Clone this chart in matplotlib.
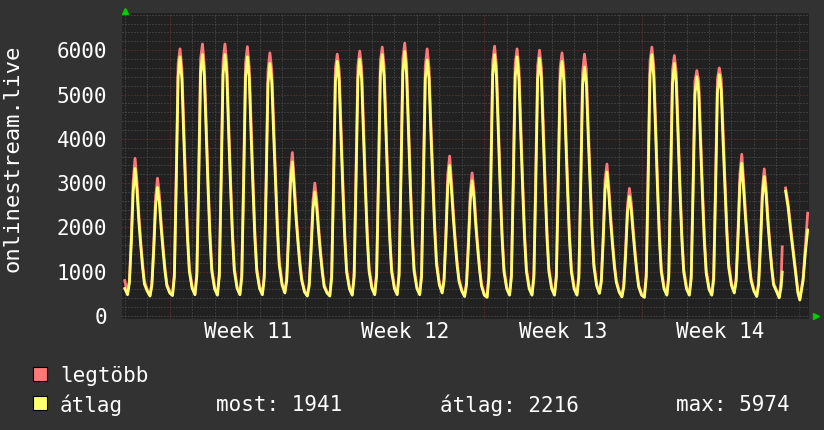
import matplotlib
matplotlib.use("Agg")
import matplotlib.pyplot as plt
from matplotlib.patches import Rectangle
import numpy as np

# ---------------- data ----------------
hours = [0, 3, 5, 7, 9, 11, 13, 15, 17, 19, 21]

# week 10 (days -2, -1 relative to the start of week 11)
avg_w10 = [
    [620, 480, 760, 1650, 2800, 3330, 2850, 2150, 1600, 1100, 720],
    [560, 450, 700, 1500, 2500, 2900, 2550, 1950, 1450, 1000, 680],
]
max_w10 = [
    [800, 500, 820, 1800, 3050, 3560, 3050, 2300, 1700, 1200, 780],
    [600, 470, 760, 1650, 2700, 3110, 2730, 2080, 1550, 1080, 720],
]
# week 11 (days 0..6)
avg_w11 = [
    [520, 460, 880, 3000, 5400, 5850, 5350, 4050, 2850, 1750, 1000],
    [620, 480, 900, 3050, 5500, 5900, 5400, 4100, 2850, 1750, 1000],
    [610, 470, 900, 3050, 5450, 5900, 5450, 4100, 2900, 1800, 1020],
    [620, 480, 880, 3000, 5400, 5850, 5350, 4050, 2850, 1750, 1000],
    [620, 480, 860, 2900, 5250, 5700, 5300, 4100, 3000, 1950, 1150],
    [700, 520, 800, 1800, 3000, 3480, 2850, 2200, 1650, 1150, 800],
    [540, 450, 680, 1450, 2400, 2800, 2450, 1900, 1400, 980, 660],
]
max_w11 = [
    [560, 480, 980, 3250, 5700, 6030, 5600, 4300, 3050, 1900, 1080],
    [660, 500, 1000, 3300, 5800, 6140, 5650, 4350, 3050, 1900, 1080],
    [650, 490, 1000, 3300, 5750, 6140, 5700, 4350, 3100, 1950, 1100],
    [660, 500, 980, 3250, 5700, 6080, 5600, 4300, 3050, 1900, 1080],
    [660, 500, 960, 3150, 5550, 5940, 5550, 4350, 3200, 2100, 1250],
    [750, 540, 870, 1950, 3250, 3690, 3050, 2350, 1750, 1250, 850],
    [570, 470, 740, 1600, 2600, 3000, 2630, 2030, 1500, 1050, 700],
]
# week 12 (days 7..13)
avg_w12 = [
    [520, 450, 860, 2950, 5300, 5750, 5300, 4000, 2800, 1720, 980],
    [610, 470, 880, 3000, 5350, 5800, 5350, 4050, 2850, 1750, 1000],
    [620, 480, 900, 3050, 5450, 5900, 5400, 4100, 2850, 1750, 1000],
    [620, 480, 910, 3100, 5500, 5974, 5450, 4150, 2900, 1780, 1010],
    [620, 480, 880, 3000, 5350, 5780, 5350, 4100, 3000, 1950, 1150],
    [700, 520, 790, 1750, 2950, 3400, 2830, 2180, 1630, 1130, 780],
    [560, 440, 700, 1550, 2600, 3050, 2650, 2020, 1500, 1030, 680],
]
max_w12 = [
    [550, 470, 960, 3200, 5600, 5910, 5550, 4250, 3000, 1870, 1060],
    [650, 490, 980, 3250, 5650, 5980, 5600, 4300, 3050, 1900, 1080],
    [660, 500, 1000, 3300, 5750, 6070, 5650, 4350, 3050, 1900, 1080],
    [660, 500, 1010, 3350, 5800, 6160, 5700, 4400, 3100, 1930, 1090],
    [660, 500, 980, 3250, 5650, 6030, 5600, 4350, 3200, 2100, 1250],
    [750, 540, 860, 1900, 3200, 3610, 3030, 2330, 1730, 1230, 830],
    [590, 460, 760, 1700, 2800, 3230, 2830, 2150, 1600, 1100, 720],
]
# week 13 (days 14..20)
avg_w13 = [
    [470, 420, 880, 3050, 5450, 5900, 5400, 4100, 2850, 1750, 1000],
    [610, 470, 880, 3000, 5400, 5850, 5350, 4050, 2850, 1750, 1000],
    [610, 470, 880, 3000, 5350, 5820, 5350, 4050, 2850, 1750, 1000],
    [610, 470, 870, 2950, 5300, 5750, 5300, 4000, 2800, 1720, 990],
    [610, 470, 860, 2900, 5200, 5620, 5250, 4050, 2950, 1900, 1120],
    [680, 510, 770, 1700, 2850, 3250, 2750, 2120, 1580, 1100, 760],
    [540, 430, 660, 1400, 2350, 2700, 2380, 1850, 1380, 960, 650],
]
max_w13 = [
    [500, 440, 980, 3300, 5750, 6090, 5650, 4350, 3050, 1900, 1080],
    [650, 490, 980, 3250, 5700, 6030, 5600, 4300, 3050, 1900, 1080],
    [650, 490, 980, 3250, 5650, 6000, 5600, 4300, 3050, 1900, 1080],
    [650, 490, 970, 3200, 5600, 5940, 5550, 4250, 3000, 1870, 1070],
    [650, 490, 960, 3150, 5500, 5910, 5550, 4300, 3150, 2050, 1220],
    [720, 530, 840, 1850, 3080, 3430, 2930, 2260, 1680, 1190, 810],
    [570, 450, 720, 1550, 2520, 2880, 2550, 1980, 1470, 1030, 690],
]
# week 14 (days 21..26)
avg_w14 = [
    [470, 420, 880, 3050, 5450, 5900, 5400, 4100, 2850, 1750, 1000],
    [610, 470, 860, 2950, 5250, 5700, 5250, 4000, 2800, 1720, 990],
    [610, 470, 840, 2800, 5000, 5400, 5050, 3850, 2700, 1680, 970],
    [600, 470, 830, 2800, 5050, 5450, 5100, 3950, 2900, 1880, 1100],
    [690, 520, 790, 1780, 2980, 3450, 2850, 2200, 1640, 1140, 790],
    [560, 440, 710, 1580, 2680, 3150, 2730, 2080, 1540, 1060, 700],
]
max_w14 = [
    [500, 440, 980, 3300, 5750, 6070, 5650, 4350, 3050, 1900, 1080],
    [650, 490, 960, 3200, 5550, 5880, 5500, 4250, 3000, 1870, 1070],
    [650, 490, 940, 3050, 5300, 5540, 5300, 4100, 2900, 1830, 1050],
    [640, 490, 930, 3050, 5350, 5600, 5350, 4200, 3100, 2030, 1200],
    [740, 540, 860, 1930, 3220, 3650, 3050, 2350, 1740, 1240, 840],
    [590, 460, 770, 1730, 2880, 3320, 2910, 2210, 1640, 1130, 740],
]
# last day of week 14 (with a data gap) and start of week 15, hours from day 27
tail_hours = [0, 3, 5, 6.2, 8, 9.8, 12.5, 15, 18, 20.5, 23, 25, 28.5, 31, 33.4]
tail_avg = [560, 410, 650, 990, np.nan, 2820, 2450, 1950, 1420, 970, 520, 360, 800, 1450, 1941]
tail_max = [590, 430, 800, 1560, np.nan, 2890, 2550, 2050, 1500, 1030, 550, 380, 860, 1600, 2320]

week_first_day = [-2, 0, 7, 14, 21]
tail_first_day = 27

week_labels = ["Week 11", "Week 12", "Week 13", "Week 14"]
week_label_pos = [3.5, 10.5, 17.5, 24.5]
y_ticks = [0, 1000, 2000, 3000, 4000, 5000, 6000]

legend_names = ["legtöbb", "átlag"]
stat_texts = ["most: 1941", "átlag: 2216", "max: 5974"]
ylabel = "onlinestream.live"

# ---------------- build series ----------------
def build(weeks, tail):
    xs, ys = [], []
    for first, days in zip(week_first_day, weeks):
        for i, day in enumerate(days):
            for h, v in zip(hours, day):
                xs.append(first + i + h / 24.0)
                ys.append(v)
    for h, v in zip(tail_hours, tail):
        xs.append(tail_first_day + h / 24.0)
        ys.append(v)
    return np.array(xs), np.array(ys, dtype=float)

x_avg, y_avg = build([avg_w10, avg_w11, avg_w12, avg_w13, avg_w14], tail_avg)
x_max, y_max = build([max_w10, max_w11, max_w12, max_w13, max_w14], tail_max)

# ---------------- figure ----------------
W, H = 824, 430
BACK = "#323232"
CANVAS = "#212121"
RED = "#ff7878"
YELLOW = "#ffff70"
MINOR = "#565656"
MAJOR = "#7a3434"
FONT = "DejaVu Sans Mono"

fig = plt.figure(figsize=(W / 100, H / 100), dpi=100, facecolor=BACK)
ax = fig.add_axes([121.7 / W, 1 - 319 / H, (809 - 121.7) / W, (319 - 13) / H])
ax.set_facecolor(CANVAS)
for s in ax.spines.values():
    s.set_visible(False)

ax.set_xlim(-2.136, 28.45)
ax.set_ylim(-68, 6840)

dots = (0, (1, 2))
for d in range(-2, 29):
    ax.axvline(d, color=MAJOR if d % 7 == 0 else MINOR, lw=0.72,
               linestyle=dots, zorder=1)
for v in range(0, 6801, 200):
    ax.axhline(v, color=MAJOR if (v % 1000 == 0 and v > 0) else MINOR, lw=0.72,
               linestyle=dots, zorder=1)

ax.plot(x_max, y_max, color=RED, lw=2.0, zorder=3)
ax.plot(x_avg, y_avg, color=YELLOW, lw=2.0, zorder=4)

ax.set_yticks(y_ticks)
ax.set_yticklabels([str(v) for v in y_ticks])
ax.set_xticks(week_label_pos)
ax.set_xticklabels(week_labels)
ax.tick_params(axis="y", length=0, pad=10.6, labelsize=15, labelcolor="white")
ax.tick_params(axis="x", length=0, pad=2.2, labelsize=15, labelcolor="white")
for lab in ax.get_xticklabels() + ax.get_yticklabels():
    lab.set_fontfamily(FONT)

# arrows (axis heads)
ax.plot([124.7 / W], [1 - 10.5 / H], marker="^", color="#00cc00", markersize=4.5,
        transform=fig.transFigure, clip_on=False)
ax.plot([815.5 / W], [1 - 315.8 / H], marker=">", color="#00cc00", markersize=4.5,
        transform=fig.transFigure, clip_on=False)

# y label
fig.text(13 / W, 1 - 158 / H, ylabel, rotation=90, ha="center", va="center",
         color="white", fontsize=16, family=FONT)

# legend
for i, (name, col) in enumerate(zip(legend_names, [RED, YELLOW])):
    yc = 374 + 29 * i
    fig.patches.append(Rectangle((33 / W, 1 - (yc + 7) / H), 14 / W, 14 / H,
                                 transform=fig.transFigure, facecolor=col,
                                 edgecolor="black", lw=0.8))
    fig.text(60 / W, 1 - yc / H, name, ha="left", va="center_baseline",
             color="white", fontsize=15, family=FONT)
for txt, xs in zip(stat_texts, [216, 440, 676]):
    fig.text(xs / W, 1 - 403 / H, txt, ha="left", va="center_baseline",
             color="white", fontsize=15, family=FONT)

fig.savefig("out.png", dpi=100, facecolor=BACK)
